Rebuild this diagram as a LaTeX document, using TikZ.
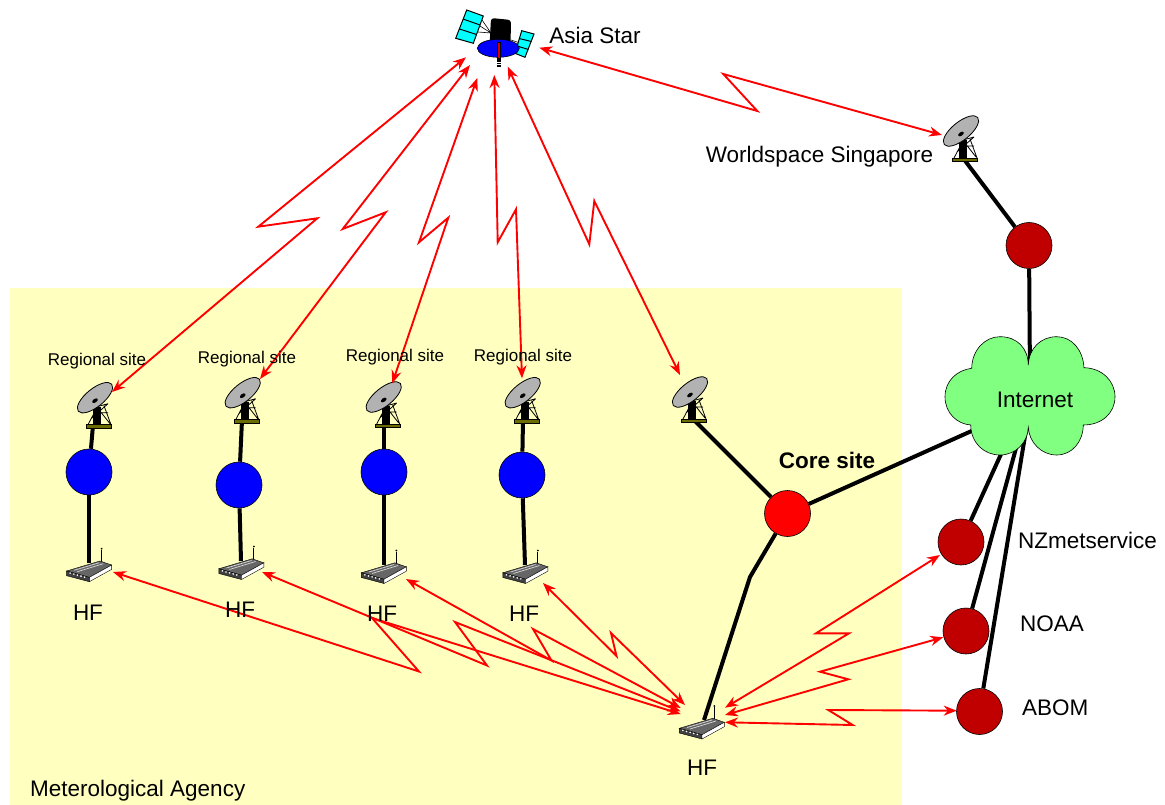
\documentclass[tikz,border=0pt]{standalone}
\usepackage{fontspec}
\setmainfont{Liberation Sans}
\usetikzlibrary{arrows.meta}
\pgfdeclarelayer{bg}
\pgfsetlayers{bg,main}
\definecolor{agency}{HTML}{FFFFC0}
\definecolor{darkred}{HTML}{C00000}
\definecolor{cloudgreen}{HTML}{80FF80}
\definecolor{panel}{HTML}{00FFFF}
\definecolor{baseolive}{HTML}{6B6B00}
\tikzset{
  lbl/.style={font=\fontsize{22.5}{24}\selectfont,inner sep=0pt,text=black},
  small/.style={font=\fontsize{17}{19}\selectfont,inner sep=0pt,text=black},
  bluenode/.style={circle,draw=black,line width=.6pt,fill=blue,minimum size=46pt,inner sep=0pt},
  darknode/.style={circle,draw=black,line width=.6pt,fill=darkred,minimum size=46pt,inner sep=0pt},
  rednode/.style={circle,draw=black,line width=.6pt,fill=red,minimum size=46pt,inner sep=0pt},
  wire/.style={line width=4pt,black},
  link/.style={draw=red,line width=1.9pt,line join=miter,miter limit=20,{Stealth[length=13pt,width=10pt]}-{Stealth[length=13pt,width=10pt]}},
  dishpic/.pic={
    \draw[black,line width=.8pt] (-11,-2) -- (-1,-21) (12,-2) -- (5,-21) (-8,-8) -- (9,-23) (-4,-22) -- (11,-3) (-4,-14) -- (9,-14) (9,-23) -- (-2,-20);
    \fill[black] (-6,-20) rectangle (2,-1);
    \draw[black,line width=.6pt,fill=baseolive] (-12.5,-2) rectangle (12.5,1.5);
    \draw[black,line width=.8pt,fill=black!30,shift={(-4,-29)},rotate=39] (0,0) ellipse [x radius=21.5pt,y radius=9pt];
    \fill[black,shift={(-4,-26)},rotate=35] (0,0) ellipse [x radius=3.2pt,y radius=1.8pt];
  },
  routerpic/.pic={
    \draw[black,line width=.9pt] (12.3,-18) -- (12.3,-32);
    \fill[black] (12.3,-33) circle (1pt);
    \draw[black,line width=.4pt,fill=black!60] (-22.7,-10.7) -- (10.7,-20.7) -- (22.3,-16.7) -- (0,-4.3) -- cycle;
    \draw[white!85!black,line width=.7pt] (-15,-11.5) -- (10,-19) (-12,-10) -- (14,-18);
    \draw[black,line width=.4pt,fill=black!75] (-22.7,-10.7) -- (0,-4.3) -- (0,0) -- (-22.7,-6) -- cycle;
    \draw[black,line width=.4pt,fill=white] (0,-4.3) -- (22.3,-16.7) -- (22.3,-12.3) -- (0,0) -- cycle;
    \foreach \k in {1,...,5} {\fill[white] (-22.7+3.6*\k,-9.6+1.0*\k) circle (.9pt);}
  }
}
\begin{document}
\begin{tikzpicture}[x=1pt,y=-1pt]
\useasboundingbox (0,0) rectangle (1165,805);
% circles
\node[bluenode] (c1) at (89,472) {};
\node[bluenode] (c2) at (239,485) {};
\node[bluenode] (c3) at (384,472) {};
\node[bluenode] (c4) at (522,475) {};
\node[rednode] (core) at (787.5,513.5) {};
\node[darknode] (top) at (1029,245.5) {};
\node[darknode] (nz) at (961,542) {};
\node[darknode] (noaa) at (966,631) {};
\node[darknode] (abom) at (979.5,711.5) {};
% wire ends
\coordinate (d1) at (93,425);
\coordinate (d2) at (242,420);
\coordinate (d3) at (384,424);
\coordinate (d4) at (523,420);
\coordinate (d5) at (694,420);
\coordinate (ds) at (963,158);
\coordinate (r1) at (89,563);
\coordinate (r2) at (241,561);
\coordinate (r3) at (384,565);
\coordinate (r4) at (525,565);
\coordinate (rc) at (704,720);
\coordinate (bend) at (750,577);
\coordinate (inA) at (1030,380);
\coordinate (inB) at (985,425);
\coordinate (inC) at (1012,430);
\coordinate (inD) at (1021,430);
\coordinate (inE) at (1026,430);
\begin{pgfonlayer}{bg}
\fill[agency] (10,288) rectangle (902,805);
\draw[wire] (d1) -- (c1);
\draw[wire] (d2) -- (c2);
\draw[wire] (d3) -- (c3);
\draw[wire] (d4) -- (c4);
\draw[wire] (c1) -- (r1);
\draw[wire] (c2) -- (r2);
\draw[wire] (c3) -- (r3);
\draw[wire] (c4) -- (r4);
\draw[wire] (d5) -- (core);
\draw[wire] (core) -- (bend) -- (rc);
\draw[wire] (ds) -- (top);
\draw[wire] (top) -- (inA);
\draw[wire] (core) -- (inB);
\draw[wire] (nz) -- (inC);
\draw[wire] (noaa) -- (inD);
\draw[wire] (abom) -- (inE);
\end{pgfonlayer}
% cloud
\draw[black,line width=.6pt,fill=cloudgreen]
 (1028.3,365) .. controls (1028,348) and (1017,336.7) .. (1000,336.7)
 .. controls (985,336.7) and (972,350) .. (971.7,368.3)
 .. controls (957,370) and (945,381) .. (945,396.7)
 .. controls (945,413) and (957,424) .. (970.7,425)
 .. controls (971,443) and (984,455) .. (1000,455)
 .. controls (1016,455) and (1028,442) .. (1028.3,427.3)
 .. controls (1029,442) and (1041,455) .. (1056.7,455)
 .. controls (1072,455) and (1083,442) .. (1083.3,425)
 .. controls (1102,425) and (1115,413) .. (1115,396.7)
 .. controls (1115,381) and (1102,368) .. (1084,367.7)
 .. controls (1083,350) and (1072,336.7) .. (1056.7,336.7)
 .. controls (1041,336.7) and (1029,348) .. (1028.3,365) -- cycle;
\node[lbl] (internet) at (1035,399.5) {Internet};
% dishes
\pic at (99,426.7) {dishpic};
\pic at (246.7,421.7) {dishpic};
\pic at (387.7,426) {dishpic};
\pic at (526.7,421.7) {dishpic};
\pic at (694,421) {dishpic};
\pic at (965,160) {dishpic};
% routers
\pic at (89.3,581.7) {routerpic};
\pic at (241.5,579.5) {routerpic};
\pic at (384,583.5) {routerpic};
\pic at (525.5,583.5) {routerpic};
\pic at (702,739) {routerpic};
% satellite
\draw[black,line width=.6pt] (480,26) -- (491,33) -- (478,32) (482,20) -- (491,33);
\draw[black,line width=.6pt] (511,40) -- (520,43);
\draw[black,line width=1pt,fill=panel] (521.7,30.7) -- (534,34) -- (525,57.3) -- (515,53.3) -- cycle;
\draw[black,line width=1pt] (519,38.5) -- (531.5,41.5) (517,46) -- (528.5,49.5);
\draw[black,line width=1pt,fill=panel] (466.7,10) -- (483.3,16) -- (473.3,43.3) -- (455.7,38.3) -- cycle;
\draw[black,line width=1pt] (463,19) -- (480,25) (459.5,29) -- (476.5,34.5);
\fill[black,rounded corners=3pt] (491,18) -- (511,20) -- (510.5,46) -- (489.5,46) -- cycle;
\draw[black,line width=.6pt,fill=blue] (498.3,48.3) ellipse [x radius=21pt,y radius=9pt];
\draw[black,line width=.3pt,fill=red!85!black] (497.3,42.3) rectangle (500,58);
\draw[black,line width=3.6pt,dash pattern=on 1.7pt off .6pt] (499,58) -- (499,67);
% link ends
\coordinate (s1) at (466,57.3);
\coordinate (s2) at (470,65);
\coordinate (s3) at (477.3,78);
\coordinate (s4) at (494.3,75);
\coordinate (s5) at (507.7,66.7);
\coordinate (s6) at (539.3,47.7);
\coordinate (t1) at (112,392);
\coordinate (t2) at (260,379);
\coordinate (t3) at (392.3,383.3);
\coordinate (t4) at (522,378.3);
\coordinate (t5) at (680,375);
\coordinate (t6) at (942,135);
\coordinate (h1) at (113,572);
\coordinate (h2) at (262,572);
\coordinate (h3) at (406,579);
\coordinate (h4) at (543,583);
\coordinate (e1) at (680.7,714);
\coordinate (e2) at (680.7,711.5);
\coordinate (e3) at (680.7,708);
\coordinate (e4) at (685,705);
\coordinate (e5) at (725,707.7);
\coordinate (e6) at (725,715);
\coordinate (e7) at (725,722.3);
\coordinate (nzt) at (940,555);
\coordinate (noaat) at (943.3,637.3);
\coordinate (abomt) at (956.7,710.7);
% links
\draw[link] (s1) -- (258.3,226.7) -- (317.3,218.3) -- (t1);
\draw[link] (s2) -- (342.7,229) -- (385.7,212.3) -- (t2);
\draw[link] (s3) -- (419,242.3) -- (448.3,217.7) -- (t3);
\draw[link] (s4) -- (497.7,242.3) -- (516,209.3) -- (t4);
\draw[link] (s5) -- (589.3,244.3) -- (594.3,201) -- (t5);
\draw[link] (s6) -- (757.3,111) -- (723.3,74) -- (t6);
\draw[link] (h1) -- (419,671.5) -- (372,618) -- (e1);
\draw[link] (h2) -- (487,665.5) -- (455,622) -- (e2);
\draw[link] (h3) -- (551.5,660.5) -- (533,629) -- (e3);
\draw[link] (h4) -- (616.5,656) -- (611,633) -- (e4);
\draw[link] (e5) -- (849,633.3) -- (816,633.3) -- (nzt);
\draw[link] (e6) -- (848.3,679.3) -- (820,671.7) -- (noaat);
\draw[link] (e7) -- (852.7,725) -- (828.3,710) -- (abomt);
% labels
\node[lbl] (asia) at (595,35) {Asia Star};
\node[lbl] (ws) at (819.5,157) {Worldspace Singapore};
\node[small] (rs1) at (97,361.5) {Regional site};
\node[small] (rs2) at (247,359.5) {Regional site};
\node[small] (rs3) at (395,357.5) {Regional site};
\node[small] (rs4) at (523,357.5) {Regional site};
\node[lbl,font=\fontsize{22.5}{24}\selectfont\bfseries] (coresite) at (827,460) {Core site};
\node[lbl,anchor=west] (nzl) at (1018,540) {NZmetservice};
\node[lbl,anchor=west] (noaal) at (1020,624) {NOAA};
\node[lbl,anchor=west] (aboml) at (1022,708) {ABOM};
\node[lbl,anchor=west] (agencyl) at (30,791) {Meterological Agency};
\node[lbl] (hf1) at (88,613) {HF};
\node[lbl] (hf2) at (240,610) {HF};
\node[lbl] (hf3) at (382,614) {HF};
\node[lbl] (hf4) at (524,614) {HF};
\node[lbl] (hf5) at (702,768) {HF};
\end{tikzpicture}
\end{document}
